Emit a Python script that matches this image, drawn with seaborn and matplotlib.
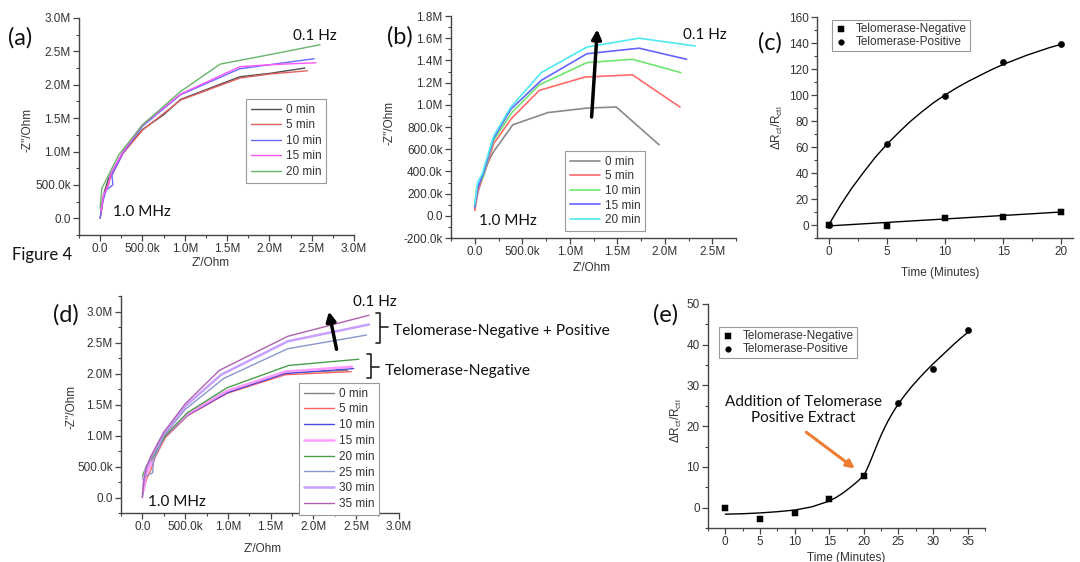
import numpy as np
import pandas as pd
import seaborn as sns
import matplotlib.pyplot as plt
from matplotlib.ticker import FuncFormatter, MultipleLocator, AutoMinorLocator
from matplotlib.lines import Line2D

# ---- panel (a): Nyquist curves, Z' and -Z'' in MOhm
a_labels = ['0 min', '5 min', '10 min', '15 min', '20 min']
a_colors = ['#505050', '#e06060', '#6a6aff', '#ff55ff', '#6ab46a']
a_zre = [[0.0, 0.02, 0.05, 0.10, 0.25, 0.50, 0.75, 0.95, 1.65, 2.00, 2.42],
         [0.01, 0.03, 0.08, 0.12, 0.27, 0.50, 0.95, 1.65, 2.00, 2.45],
         [0.0, 0.02, 0.07, 0.15, 0.14, 0.27, 0.50, 0.95, 1.65, 2.00, 2.53],
         [0.01, 0.04, 0.10, 0.12, 0.27, 0.50, 0.95, 1.65, 2.00, 2.55],
         [0.0, 0.0, 0.02, 0.10, 0.22, 0.50, 0.95, 1.42, 2.00, 2.60]]
a_zim = [[0.0, 0.15, 0.40, 0.60, 0.95, 1.33, 1.55, 1.78, 2.12, 2.17, 2.25],
         [0.05, 0.30, 0.45, 0.60, 0.97, 1.32, 1.77, 2.10, 2.16, 2.21],
         [0.0, 0.20, 0.42, 0.50, 0.65, 0.98, 1.38, 1.85, 2.24, 2.30, 2.39],
         [0.10, 0.35, 0.50, 0.65, 1.00, 1.40, 1.86, 2.27, 2.30, 2.33],
         [0.0, 0.30, 0.45, 0.65, 0.95, 1.40, 1.90, 2.31, 2.45, 2.60]]

# ---- panel (b)
b_labels = ['0 min', '5 min', '10 min', '15 min', '20 min']
b_colors = ['#8a8a8a', '#ff6a6a', '#6ee66e', '#6464ff', '#50e8f0']
b_zre = [[0.0, 0.03, 0.08, 0.15, 0.20, 0.40, 0.77, 1.18, 1.49, 1.94],
         [0.0, 0.03, 0.10, 0.15, 0.20, 0.39, 0.68, 1.16, 1.66, 2.16],
         [0.0, 0.02, 0.09, 0.15, 0.20, 0.39, 0.68, 1.18, 1.66, 2.17],
         [0.0, 0.03, 0.10, 0.15, 0.20, 0.38, 0.70, 1.18, 1.73, 2.23],
         [0.0, 0.03, 0.08, 0.15, 0.20, 0.38, 0.70, 1.18, 1.73, 2.32]]
b_zim = [[0.05, 0.20, 0.35, 0.50, 0.58, 0.82, 0.93, 0.97, 0.98, 0.64],
         [0.05, 0.22, 0.38, 0.52, 0.65, 0.88, 1.13, 1.25, 1.27, 0.98],
         [0.08, 0.25, 0.35, 0.55, 0.68, 0.93, 1.18, 1.38, 1.41, 1.29],
         [0.08, 0.25, 0.40, 0.56, 0.70, 0.96, 1.22, 1.46, 1.51, 1.41],
         [0.10, 0.30, 0.38, 0.58, 0.72, 0.98, 1.29, 1.52, 1.60, 1.53]]

# ---- panel (c): dRct/Rct vs time
c_time = [0, 5, 10, 15, 20]
c_neg = [0.0, -0.5, 5.5, 6.0, 10.0]
c_pos = [0.0, 62.0, 99.5, 125.5, 139.5]
c_neg_fit_t = [0, 20]
c_neg_fit_y = [-0.7, 10.0]
c_pos_fit_t = [0, 1, 2, 3, 4, 5, 6, 7, 8, 9, 10, 11, 12, 13, 14, 15, 16, 17, 18, 19, 20]
c_pos_fit_y = [0, 15, 28.5, 40.5, 52, 62, 71, 79.5, 87, 94, 100, 105.5, 110.5, 115, 119.5,
               123.5, 127, 130.5, 133.5, 136.5, 139]

# ---- panel (d)
d_labels = ['0 min', '5 min', '10 min', '15 min', '20 min', '25 min', '30 min', '35 min']
d_colors = ['#808080', '#ff6464', '#4a4ae0', '#ff9cff', '#4aa04a', '#8a96cc', '#c8a0ff', '#b060b0']
d_widths = [1.0, 1.0, 1.0, 1.8, 1.0, 1.0, 1.8, 1.0]
d_zre = [[0.0, 0.02, 0.04, 0.10, 0.26, 0.53, 0.99, 1.67, 2.40],
         [0.01, 0.05, 0.10, 0.15, 0.27, 0.53, 0.99, 1.67, 2.44],
         [0.0, 0.03, 0.08, 0.14, 0.26, 0.53, 0.99, 1.67, 2.47],
         [0.01, 0.04, 0.10, 0.15, 0.26, 0.53, 0.99, 1.67, 2.45],
         [0.0, 0.05, 0.10, 0.27, 0.53, 0.99, 1.71, 2.53],
         [0.0, 0.05, 0.12, 0.13, 0.25, 0.50, 0.95, 1.70, 2.62],
         [0.01, 0.04, 0.10, 0.25, 0.50, 0.92, 1.70, 2.65],
         [0.0, 0.02, 0.05, 0.10, 0.25, 0.50, 0.90, 1.70, 2.65]]
d_zim = [[0.0, 0.25, 0.45, 0.60, 0.98, 1.33, 1.69, 2.01, 2.05],
         [0.10, 0.30, 0.45, 0.65, 0.97, 1.32, 1.68, 1.98, 2.03],
         [0.05, 0.35, 0.50, 0.65, 0.98, 1.33, 1.69, 2.00, 2.08],
         [0.10, 0.35, 0.55, 0.70, 1.00, 1.35, 1.72, 2.03, 2.11],
         [0.34, 0.52, 0.60, 1.00, 1.37, 1.77, 2.13, 2.23],
         [0.30, 0.35, 0.40, 0.60, 1.00, 1.42, 1.92, 2.40, 2.62],
         [0.20, 0.45, 0.65, 1.04, 1.47, 1.98, 2.52, 2.79],
         [0.0, 0.30, 0.50, 0.66, 1.05, 1.51, 2.05, 2.60, 2.94]]

# ---- panel (e)
e_neg_t = [0, 5, 10, 15, 20]
e_neg = [0.0, -2.8, -1.2, 2.0, 7.7]
e_pos_t = [25, 30, 35]
e_pos = [25.8, 34.0, 43.6]
e_fit_t = [0, 2.5, 5, 7.5, 10, 12.5, 15, 16, 17, 18, 19, 20, 20.5, 21, 21.5, 22, 22.5, 23, 23.5,
           24, 24.5, 25, 26, 27, 28, 29, 30, 31, 32, 33, 34, 35]
e_fit_y = [-1.6, -1.5, -1.3, -1.0, -0.6, 0.2, 1.6, 2.5, 3.6, 4.9, 6.3, 7.9, 9.6, 11.6, 13.7,
           15.8, 17.8, 19.6, 21.3, 22.8, 24.2, 25.5, 27.8, 29.9, 31.8, 33.6, 35.3, 36.9,
           38.5, 40.1, 41.6, 43.0]

sns.set_theme(style='ticks')
plt.rcParams['font.family'] = ['Liberation Sans', 'DejaVu Sans']
plt.rcParams['mathtext.fontset'] = 'custom'
plt.rcParams['mathtext.rm'] = 'Liberation Sans'
plt.rcParams['mathtext.it'] = 'Liberation Sans'
ANN = ['Lato', 'DejaVu Sans']
TXT = '#333333'

W, H = 1080, 562
fig = plt.figure(figsize=(W / 100, H / 100), dpi=100)


def box(l, r, t, b):
    return [l / W, 1 - b / H, (r - l) / W, (b - t) / H]


def ohm_fmt(v, pos):
    if abs(v) < 1:
        return '0.0'
    if abs(v) < 999999:
        return f'{v / 1e3:.1f}k'
    return f'{v / 1e6:.1f}M'


def style(ax, xmaj, ymaj, ohm_x=True, ohm_y=True):
    for s in ['top', 'right']:
        ax.spines[s].set_visible(False)
    for s in ['left', 'bottom']:
        ax.spines[s].set_color('#444444')
        ax.spines[s].set_linewidth(1.0)
    ax.xaxis.set_major_locator(MultipleLocator(xmaj))
    ax.yaxis.set_major_locator(MultipleLocator(ymaj))
    ax.xaxis.set_minor_locator(AutoMinorLocator(2))
    ax.yaxis.set_minor_locator(AutoMinorLocator(2))
    if ohm_x:
        ax.xaxis.set_major_formatter(FuncFormatter(ohm_fmt))
    if ohm_y:
        ax.yaxis.set_major_formatter(FuncFormatter(ohm_fmt))
    ax.tick_params(which='major', direction='out', length=4, width=0.9, color='#444444',
                   labelsize=8.5, labelcolor=TXT, pad=2)
    ax.tick_params(which='minor', direction='out', length=2, width=0.8, color='#444444')
    ax.set_facecolor('none')


def nyquist(ax, labels, colors, zre, zim, widths=None):
    for i, (lab, c, xs, ys) in enumerate(zip(labels, colors, zre, zim)):
        lw = widths[i] if widths else 1.0
        sns.lineplot(x=np.array(xs) * 1e6, y=np.array(ys) * 1e6, sort=False, color=c,
                     lw=lw, label=lab, ax=ax)


def legend_at(ax, x, y, **kw):
    leg = ax.legend(loc='upper left', bbox_to_anchor=(x / W, 1 - y / H), bbox_transform=fig.transFigure,
                    borderaxespad=0, fancybox=False, framealpha=1, edgecolor='#999999',
                    prop={'size': 8.5}, **kw)
    leg.get_frame().set_linewidth(0.8)
    for t in leg.get_texts():
        t.set_color(TXT)
    return leg


def labels(ax, xl, yl, xpos, ypos):
    ax.set_xlabel(xl, fontsize=8.5, color=TXT)
    ax.set_ylabel(yl, fontsize=8.5, color=TXT)
    ax.xaxis.set_label_coords(*xpos)
    ax.yaxis.set_label_coords(*ypos)


def ftext(x, y, s, size=17, **kw):
    fig.text(x / W, 1 - y / H, s, fontsize=size, family=ANN, color='#111111', va='center', **kw)


# (a)
ax = fig.add_axes(box(79, 354, 18, 235))
nyquist(ax, a_labels, a_colors, a_zre, a_zim)
ax.set_xlim(-0.25e6, 3.0e6)
ax.set_ylim(-0.25e6, 3.0e6)
style(ax, 0.5e6, 0.5e6)
labels(ax, "Z'/Ohm", "-Z''/Ohm", (0.48, -0.10), (-0.165, 0.484))
legend_at(ax, 246, 99, handlelength=2.6, labelspacing=0.3, borderpad=0.4, handletextpad=0.4)
ax.text(2.28e6, 2.73e6, '0.1 Hz', fontsize=11, family=ANN, va='center', color='#111111')
ax.text(0.15e6, 0.10e6, '1.0 MHz', fontsize=11, family=ANN, va='center', color='#111111')

# (b)
ax = fig.add_axes(box(451, 736, 16, 238))
nyquist(ax, b_labels, b_colors, b_zre, b_zim, widths=[1.2] * 5)
ax.set_xlim(-0.25e6, 2.75e6)
ax.set_ylim(-0.2e6, 1.8e6)
style(ax, 0.5e6, 0.2e6)
labels(ax, "Z'/Ohm", "-Z''/Ohm", (0.495, -0.11), (-0.193, 0.52))
legend_at(ax, 565, 151, handlelength=2.6, labelspacing=0.22, borderpad=0.4, handletextpad=0.4)
ax.annotate('', xy=(1.29e6, 1.68e6), xytext=(1.23e6, 0.89e6),
            arrowprops=dict(arrowstyle='-|>', lw=2.5, color='black', mutation_scale=14, shrinkA=0, shrinkB=0))
ax.text(2.19e6, 1.63e6, '0.1 Hz', fontsize=11, family=ANN, va='center', color='#111111', clip_on=False)
ax.text(0.04e6, -0.045e6, '1.0 MHz', fontsize=11, family=ANN, va='center', color='#111111')

# (c)
ax = fig.add_axes(box(817, 1073, 17, 238))
sns.lineplot(x=c_pos_fit_t, y=c_pos_fit_y, color='black', lw=1.0, ax=ax)
sns.lineplot(x=c_neg_fit_t, y=c_neg_fit_y, color='black', lw=1.0, ax=ax)
sns.scatterplot(x=c_time, y=c_neg, marker='s', s=20, color='black', edgecolor='black',
                label='Telomerase-Negative', ax=ax)
sns.scatterplot(x=c_time, y=c_pos, marker='o', s=20, color='black', edgecolor='black',
                label='Telomerase-Positive', ax=ax)
ax.set_xlim(-1, 21)
ax.set_ylim(-10, 160)
style(ax, 5, 20, ohm_x=False, ohm_y=False)
labels(ax, 'Time (Minutes)', r'$\Delta R_{ct}/R_{ctl}$', (0.48, -0.13), (-0.125, 0.50))
legend_at(ax, 832, 20, handlelength=1.0, labelspacing=0.1, borderpad=0.25, handletextpad=0.8,
          markerscale=0.9)

# (d)
ax = fig.add_axes(box(121, 399, 296, 513))
nyquist(ax, d_labels, d_colors, d_zre, d_zim, widths=d_widths)
ax.set_xlim(-0.25e6, 3.0e6)
ax.set_ylim(-0.25e6, 3.25e6)
style(ax, 0.5e6, 0.5e6)
labels(ax, "Z'/Ohm", "-Z''/Ohm", (0.51, -0.14), (-0.158, 0.488))
legend_at(ax, 299, 383, handlelength=2.6, labelspacing=0.32, borderpad=0.4, handletextpad=0.4)
ax.annotate('', xy=(2.18e6, 3.0e6), xytext=(2.27e6, 2.39e6),
            arrowprops=dict(arrowstyle='-|>', lw=2.5, color='black', mutation_scale=14, shrinkA=0, shrinkB=0))
ax.text(2.46e6, 3.16e6, '0.1 Hz', fontsize=11, family=ANN, va='center', color='#111111', clip_on=False)
ax.text(0.06e6, -0.08e6, '1.0 MHz', fontsize=11, family=ANN, va='center', color='#111111')

# brackets next to panel (d)
for (x0, x1, xt, yt, yb, ym) in [(376, 380, 388, 313, 343, 327), (367, 371, 379, 354, 378, 367)]:
    xs = [x0 / W, x1 / W, x1 / W, x0 / W]
    ys = [1 - yt / H, 1 - yt / H, 1 - yb / H, 1 - yb / H]
    fig.add_artist(Line2D(xs, ys, color='#222222', lw=1.2, transform=fig.transFigure))
    fig.add_artist(Line2D([x1 / W, xt / W], [1 - ym / H, 1 - ym / H], color='#222222', lw=1.2,
                          transform=fig.transFigure))
ftext(393, 331, 'Telomerase-Negative + Positive', size=11.2)
ftext(385, 371, 'Telomerase-Negative', size=11.2)

# (e)
ax = fig.add_axes(box(708, 985, 304, 528))
sns.lineplot(x=e_fit_t, y=e_fit_y, color='black', lw=1.0, ax=ax)
sns.scatterplot(x=e_neg_t, y=e_neg, marker='s', s=20, color='black', edgecolor='black',
                label='Telomerase-Negative', ax=ax)
sns.scatterplot(x=e_pos_t, y=e_pos, marker='o', s=20, color='black', edgecolor='black',
                label='Telomerase-Positive', ax=ax)
ax.set_xlim(-2.5, 37.5)
ax.set_ylim(-5, 50)
style(ax, 5, 10, ohm_x=False, ohm_y=False)
labels(ax, 'Time (Minutes)', r'$\Delta R_{ct}/R_{ctl}$', (0.50, -0.105), (-0.087, 0.48))
legend_at(ax, 719, 327, handlelength=1.0, labelspacing=0.1, borderpad=0.25, handletextpad=0.8,
          markerscale=0.9)
ax.text(11.3, 23.9, 'Addition of Telomerase\nPositive Extract', fontsize=11, family=ANN,
        ha='center', va='center', multialignment='center', color='#111111', linespacing=1.15)
ax.annotate('', xy=(18.7, 9.6), xytext=(11.7, 18.5),
            arrowprops=dict(arrowstyle='-|>', lw=2.2, color='#ed7d31', mutation_scale=12, shrinkA=0, shrinkB=0))

# panel letters
ftext(8, 38, '(a)')
ftext(387, 37, '(b)')
ftext(758, 43, '(c)')
ftext(53, 315, '(d)')
ftext(653, 315, '(e)')
ftext(12, 255, 'Figure 4', size=12)

fig.savefig('out.png', dpi=100)
